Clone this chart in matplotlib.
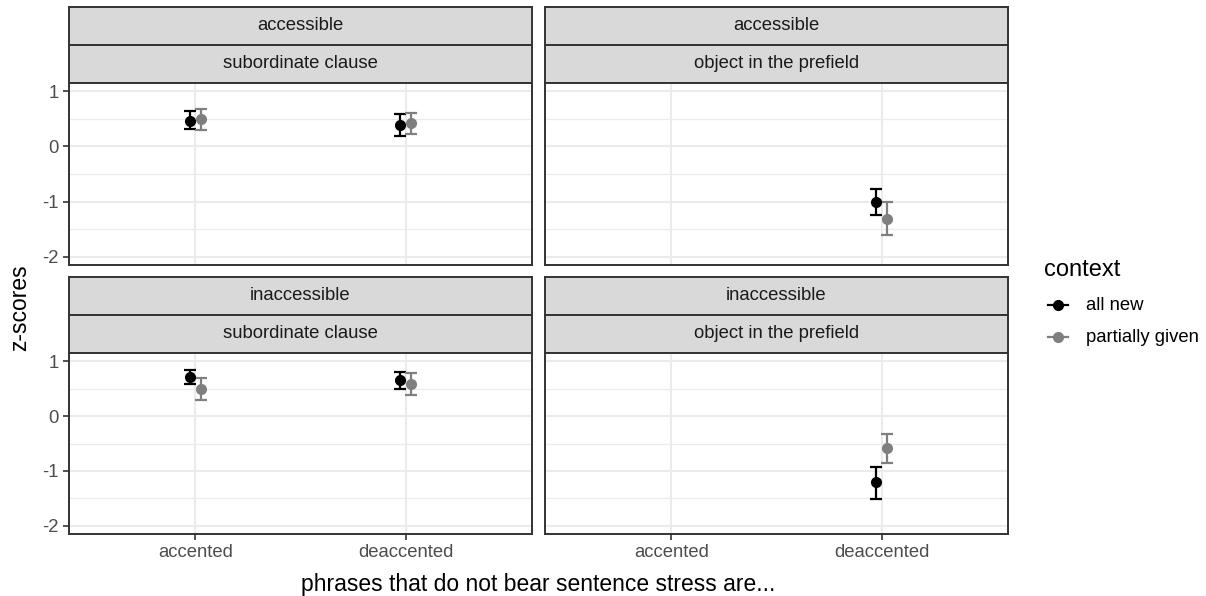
import numpy as np
import matplotlib
matplotlib.use("Agg")
import matplotlib.pyplot as plt
from matplotlib.lines import Line2D

plt.rcParams['font.family'] = ['Liberation Sans', 'DejaVu Sans']
plt.rcParams['axes.unicode_minus'] = False

W, H = 1206, 596

# facets, left to right then top to bottom
accessibility = ['accessible', 'accessible', 'inaccessible', 'inaccessible']
construction = ['subordinate clause', 'object in the prefield',
                'subordinate clause', 'object in the prefield']
stress = ['accented', 'deaccented']
contexts = ['all new', 'partially given']
ctx_colors = ['black', '#7F7F7F']
yticks = [-2, -1, 0, 1]
ytick_labels = ['-2', '-1', '0', '1']

nan = np.nan
all_new_mean = [[0.47, 0.38], [nan, -1.01], [0.71, 0.65], [nan, -1.21]]
all_new_lo = [[0.31, 0.18], [nan, -1.25], [0.58, 0.49], [nan, -1.52]]
all_new_hi = [[0.64, 0.58], [nan, -0.77], [0.84, 0.80], [nan, -0.92]]
given_mean = [[0.49, 0.42], [nan, -1.31], [0.49, 0.58], [nan, -0.59]]
given_lo = [[0.29, 0.22], [nan, -1.61], [0.30, 0.39], [nan, -0.85]]
given_hi = [[0.67, 0.60], [nan, -1.01], [0.70, 0.78], [nan, -0.33]]

series = [(all_new_mean, all_new_lo, all_new_hi),
          (given_mean, given_lo, given_hi)]
dodge = [-0.026, 0.026]

# layout in pixels
cols = [(69, 532), (545, 1008)]
rows = [(6.5, 44.5, 83, 265), (276.5, 314.5, 353, 534)]
border = '#333333'


def px_axes(fig, x0, y0, x1, y1):
    return fig.add_axes([x0 / W, 1 - y1 / H, (x1 - x0) / W, (y1 - y0) / H])


def strip(fig, x0, y0, x1, y1, label):
    ax = px_axes(fig, x0, y0, x1, y1)
    ax.set_facecolor('#D9D9D9')
    ax.set_xticks([])
    ax.set_yticks([])
    for s in ax.spines.values():
        s.set_color(border)
        s.set_linewidth(1.4)
    ax.text(0.5, 0.5, label, ha='center', va='center', fontsize=13.3,
            color='#1A1A1A', transform=ax.transAxes)
    return ax


fig = plt.figure(figsize=(W / 100, H / 100), dpi=100)

for k in range(4):
    r, c = divmod(k, 2)
    x0, x1 = cols[c]
    s0, s1, p0, p1 = rows[r]
    strip(fig, x0, s0, x1, s1, accessibility[k])
    strip(fig, x0, s1, x1, p0, construction[k])
    ax = px_axes(fig, x0, p0, x1, p1)
    ax.set_xlim(0.4, 2.6)
    ax.set_ylim(-2.15, 1.15)
    ax.set_yticks(yticks)
    ax.set_yticks([-1.5, -0.5, 0.5], minor=True)
    ax.set_xticks([1, 2])
    ax.set_axisbelow(True)
    ax.grid(True, which='major', color='#EBEBEB', lw=1.45)
    ax.grid(True, which='minor', axis='y', color='#EBEBEB', lw=0.9)
    for s in ax.spines.values():
        s.set_color(border)
        s.set_linewidth(1.4)
    ax.tick_params(which='minor', left=False)
    ax.tick_params(which='major', length=4, width=1.2, color=border,
                   labelcolor='#4D4D4D', labelsize=13.3, pad=3.5)
    if c == 0:
        ax.set_yticklabels(ytick_labels)
    else:
        ax.tick_params(left=False, labelleft=False)
    if r == 1:
        ax.set_xticklabels(stress)
    else:
        ax.tick_params(bottom=False, labelbottom=False)

    for (mean, lo, hi), col, dx in zip(series, ctx_colors, dodge):
        m = np.array(mean[k])
        l = np.array(lo[k])
        h = np.array(hi[k])
        xs = np.arange(1, len(stress) + 1) + dx
        ok = ~np.isnan(m)
        ax.errorbar(xs[ok], m[ok], yerr=[m[ok] - l[ok], h[ok] - m[ok]],
                    fmt='o', color=col, ms=7, capsize=4,
                    elinewidth=1.6, capthick=1.6)

fig.text(538 / W, 1 - 584 / H, 'phrases that do not bear sentence stress are...',
         ha='center', va='center', fontsize=16.5)
fig.text(20 / W, 1 - 308 / H, 'z-scores', rotation=90,
         ha='center', va='center', fontsize=16.5)

# legend
fig.text(1044 / W, 1 - 270 / H, 'context', ha='left', va='center', fontsize=17)
for i, (lab, col) in enumerate(zip(contexts, ctx_colors)):
    y = 1 - (305 + 32 * i) / H
    fig.add_artist(Line2D([1048 / W, 1068 / W], [y, y], color=col, lw=1.6,
                          transform=fig.transFigure))
    fig.add_artist(Line2D([1058 / W], [y], color=col, marker='o', ms=7,
                          transform=fig.transFigure))
    fig.text(1086 / W, y, lab, ha='left', va='center', fontsize=13.3)

fig.savefig('out.png', dpi=100)
